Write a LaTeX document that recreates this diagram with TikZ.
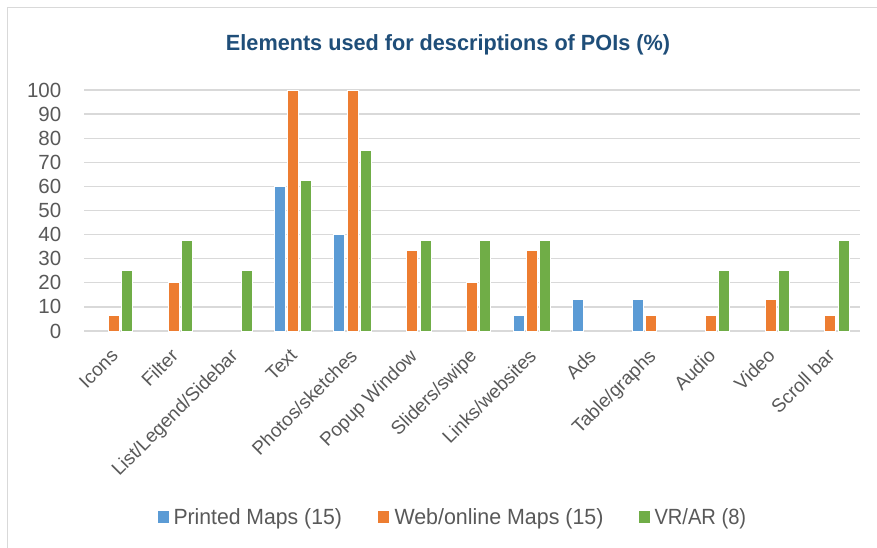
\documentclass[tikz,border=0pt]{standalone}
\usepackage{fontspec}
\setmainfont{Liberation Sans}
\usepackage{graphicx}
\definecolor{printedc}{HTML}{5B9BD5}
\definecolor{webc}{HTML}{ED7D31}
\definecolor{vrc}{HTML}{70AD47}
\definecolor{gridc}{HTML}{D9D9D9}
\definecolor{labelc}{HTML}{595959}
\definecolor{titlec}{HTML}{1F4E79}
\tikzset{
  frameline/.style={draw=gridc, line width=1.4pt},
  gridline/.style={draw=gridc, line width=1.3pt},
  bar/.style={draw=white, line width=0.7pt},
  ticklabel/.style={text=labelc, anchor=east, inner sep=0pt,
    font=\fontsize{20.5}{24}\selectfont},
  catlabel/.style={text=labelc, anchor=north east, rotate=45, inner sep=1pt,
    font=\fontsize{19}{22}\selectfont},
  legtext/.style={text=labelc, anchor=base west, inner sep=0pt},
}
% fixed-height, fixed-width text
\newcommand{\fitbox}[2]{\resizebox{#1pt}{\height}{#2}}
\begin{document}
\begin{tikzpicture}[x=1pt,y=-1pt]
\useasboundingbox (0,0) rectangle (877,548);
\fill[white] (0,0) rectangle (877,548);
% chart frame (left and top edges)
\draw[frameline] (7.5,548) -- (7.5,7.5) -- (877,7.5);

% title
\node[anchor=base, inner sep=0pt, text=titlec,
      font=\fontsize{22}{26}\selectfont\bfseries] (title) at (448,50.7)
  {\fitbox{444}{Elements used for descriptions of POIs (\%)}};

% value axis: gridlines and tick labels
\foreach \v in {0,10,...,100} {
  \pgfmathsetmacro{\yy}{331-2.41*\v}
  \draw[gridline] (84,\yy) -- (860,\yy);
  \node[ticklabel] (tick\v) at (61.5,\yy) {\v};
}

% bars: printed / web / vr, one group per category
\foreach \lab/\a/\b/\c [count=\i from 0] in {
  Icons/0/6.667/25,
  Filter/0/20/37.5,
  {List/Legend/Sidebar}/0/0/25,
  Text/60/100/62.5,
  {Photos/sketches}/40/100/75,
  Popup Window/0/33.33/37.5,
  {Sliders/swipe}/0/20/37.5,
  {Links/websites}/6.667/33.33/37.5,
  Ads/13.33/0/0,
  {Table/graphs}/13.33/6.667/0,
  Audio/0/6.667/25,
  Video/0/13.33/25,
  Scroll bar/0/6.667/37.5} {
  \pgfmathsetmacro{\cx}{84+59.69*(\i+0.5)}
  \foreach \val/\off/\col in {\a/-13.3/printedc, \b/0/webc, \c/13.3/vrc} {
    \pgfmathparse{\val>0 ? 1 : 0}
    \ifnum\pgfmathresult=1
      \pgfmathsetmacro{\yt}{331-2.41*\val}
      \filldraw[bar, fill=\col] (\cx+\off-5.5,331) rectangle (\cx+\off+5.5,\yt);
    \fi
  }
  \node[catlabel] (cat\i) at (\cx-4,346) {\lab};
}

% legend
\fill[printedc] (157.5,511) rectangle (169,522.5);
\node[legtext, font=\fontsize{22}{26}\selectfont] (legA) at (173.3,524.3)
  {\fitbox{168.4}{Printed Maps (15)}};
\fill[webc] (377.5,511) rectangle (389,522.5);
\node[legtext, font=\fontsize{22}{26}\selectfont] (legB) at (394.3,524.3)
  {\fitbox{209}{Web/online Maps (15)}};
\fill[vrc] (638.5,511) rectangle (650,522.5);
\node[legtext, font=\fontsize{22}{26}\selectfont] (legC) at (654.3,524.3)
  {\fitbox{91.7}{VR/AR (8)}};
\end{tikzpicture}
\end{document}
